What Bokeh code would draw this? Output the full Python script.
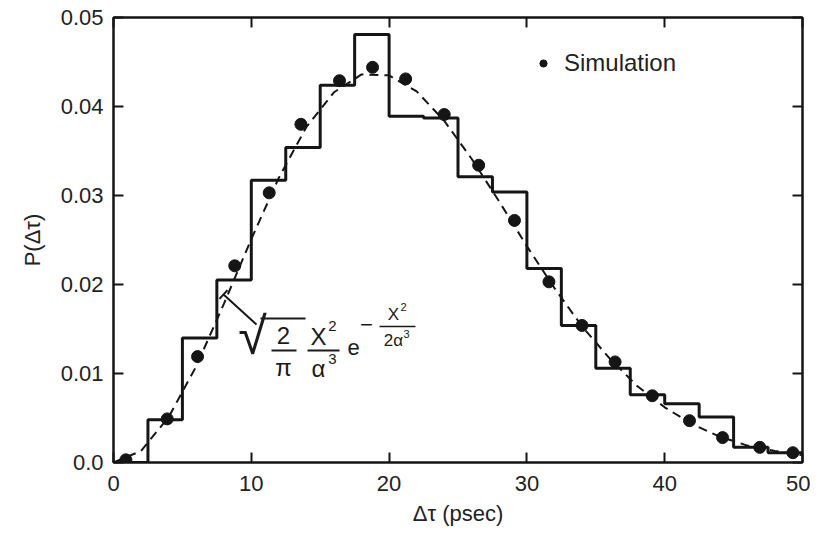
from bokeh.plotting import figure
from bokeh.models import (Range1d, LinearAxis, FixedTicker, CustomJSTickFormatter,
                          Label, Arrow, TeeHead, Legend, LegendItem)
from bokeh.embed import file_html
from bokeh.resources import INLINE

# ---------------- data ----------------
bin_edges = [0, 2.5, 5, 7.5, 10, 12.5, 15, 17.5, 20, 22.5, 25,
             27.5, 30, 32.5, 35, 37.5, 40, 42.5, 45, 47.5, 50]
hist_heights = [0.0, 0.0048, 0.0140, 0.0205, 0.0317, 0.0354, 0.0424, 0.0481,
                0.0389, 0.0387, 0.0321, 0.0304, 0.0218, 0.0154, 0.0106,
                0.0076, 0.0066, 0.0051, 0.0017, 0.0011]

sim_x = [0.9, 3.9, 6.1, 8.8, 11.3, 13.6, 16.4, 18.8, 21.2, 24.0,
         26.5, 29.1, 31.6, 34.0, 36.4, 39.1, 41.8, 44.2, 46.9, 49.3]
sim_y = [0.0003, 0.0049, 0.0119, 0.0221, 0.0303, 0.0380, 0.0429, 0.0444,
         0.0431, 0.0391, 0.0334, 0.0272, 0.0203, 0.0154, 0.0113, 0.0075,
         0.0047, 0.0028, 0.0017, 0.0011]

fit_x = [0, 2, 4, 6, 8, 10, 12, 14, 16, 18, 20, 22, 24, 26, 28, 30,
         32, 34, 36, 38, 40, 42, 44, 46, 48, 50]
fit_y = [0.0, 0.0013, 0.0051, 0.0108, 0.0178, 0.0251, 0.0320, 0.0377,
         0.0416, 0.0436, 0.0435, 0.0417, 0.0384, 0.0341, 0.0293, 0.0243,
         0.0196, 0.0153, 0.0117, 0.0086, 0.0062, 0.0043, 0.0029, 0.0019,
         0.0013, 0.0008]

x_ticks = [0, 10, 20, 30, 40, 50]
y_ticks = [0, 0.01, 0.02, 0.03, 0.04, 0.05]

FONT = "Liberation Sans"
INK = "#151515"

# ---------------- figure ----------------
p = figure(width=810, height=532, x_range=Range1d(0, 50), y_range=Range1d(0, 0.05),
           output_backend="svg", toolbar_location=None,
           min_border_left=113, min_border_right=8, min_border_top=17,
           min_border_bottom=70, x_axis_location=None, y_axis_location=None)
p.grid.visible = False
p.outline_line_color = INK
p.outline_line_width = 2
p.background_fill_color = "white"
p.border_fill_color = "white"


def style_axis(ax, show_labels):
    ax.axis_line_color = INK
    ax.axis_line_width = 2
    ax.major_tick_line_color = INK
    ax.major_tick_line_width = 2
    ax.major_tick_in = 10
    ax.major_tick_out = 0
    ax.minor_tick_line_color = None
    ax.major_label_text_font = FONT
    ax.major_label_text_color = "#222222"
    ax.axis_label_text_font = FONT
    ax.axis_label_text_font_style = "normal"
    ax.axis_label_text_color = "#222222"
    if show_labels:
        ax.major_label_text_font_size = "22px"
        ax.axis_label_text_font_size = "22px"
    else:
        ax.major_label_text_font_size = "1px"
        ax.major_label_text_color = None
        ax.major_label_standoff = 0


xb = LinearAxis(ticker=FixedTicker(ticks=x_ticks), axis_label="Δτ (psec)")
style_axis(xb, True)
xb.major_label_standoff = 13
xb.axis_label_standoff = 7
p.add_layout(xb, "below")

yl = LinearAxis(ticker=FixedTicker(ticks=y_ticks), axis_label="P(Δτ)",
                formatter=CustomJSTickFormatter(
                    code="return Math.abs(tick) < 1e-9 ? '0.0' : tick.toFixed(2);"))
style_axis(yl, True)
yl.major_label_standoff = 10
yl.axis_label_standoff = 13
p.add_layout(yl, "left")

xt = LinearAxis(ticker=FixedTicker(ticks=x_ticks))
style_axis(xt, False)
p.add_layout(xt, "above")

yr = LinearAxis(ticker=FixedTicker(ticks=y_ticks))
style_axis(yr, False)
p.add_layout(yr, "right")

# ---------------- glyphs ----------------
p.line(fit_x, fit_y, line_color=INK, line_width=2, line_dash="9 6")

step_y = hist_heights + [hist_heights[-1]]
p.step(bin_edges, step_y, mode="after", line_color=INK, line_width=3)

dots = p.scatter(sim_x, sim_y, marker="circle", size=12,
                 fill_color=INK, line_color=INK)

legend = Legend(items=[LegendItem(label="Simulation", renderers=[dots])],
                location=(421, 385), padding=0, margin=0, spacing=0,
                glyph_width=18, glyph_height=20, label_height=20,
                label_standoff=12, border_line_color=None,
                background_fill_alpha=0, label_text_font=FONT,
                label_text_font_size="24px", label_text_color="#222222")
p.add_layout(legend)

# ---------------- formula annotation ----------------
def dx(px):
    return (px - 113) / 13.78


def dy(py):
    return (462 - py) / 8900


def txt(s, x, y, size):
    p.add_layout(Label(x=dx(x), y=dy(y), text=s, text_align="center",
                       text_baseline="middle", text_font=FONT,
                       text_font_size=size, text_color="#1a1a1a"))


def bar(x0, x1, y, w=2):
    p.add_layout(Arrow(x_start=dx(x0), y_start=dy(y), x_end=dx(x1), y_end=dy(y),
                       end=None, line_color="#1a1a1a", line_width=w))


p.add_layout(Arrow(x_start=dx(256), y_start=dy(324), x_end=dx(223), y_end=dy(294),
                   end=TeeHead(size=12, line_width=2, line_color=INK),
                   line_color=INK, line_width=2))

# sqrt(2/pi)
txt("√", 252, 335, "52px")
bar(260, 305, 318)
txt("2", 283, 335, "24px")
bar(271, 296, 350)
txt("π", 283, 367, "24px")
# X^2 / alpha^3
txt("X", 318, 336, "24px")
txt("2", 332, 325, "15px")
bar(307, 339, 350)
txt("α", 318, 368, "24px")
txt("3", 332, 358, "15px")
# e^(-X^2 / 2 alpha^3)
txt("e", 353, 347, "22px")
txt("−", 366, 324, "22px")
txt("X", 393, 314, "17px")
txt("2", 403, 306, "11px")
bar(379, 415, 326, 1.5)
txt("2α", 393, 340, "17px")
txt("3", 406, 333, "11px")

open("out.html", "w").write(file_html(p, INLINE))
